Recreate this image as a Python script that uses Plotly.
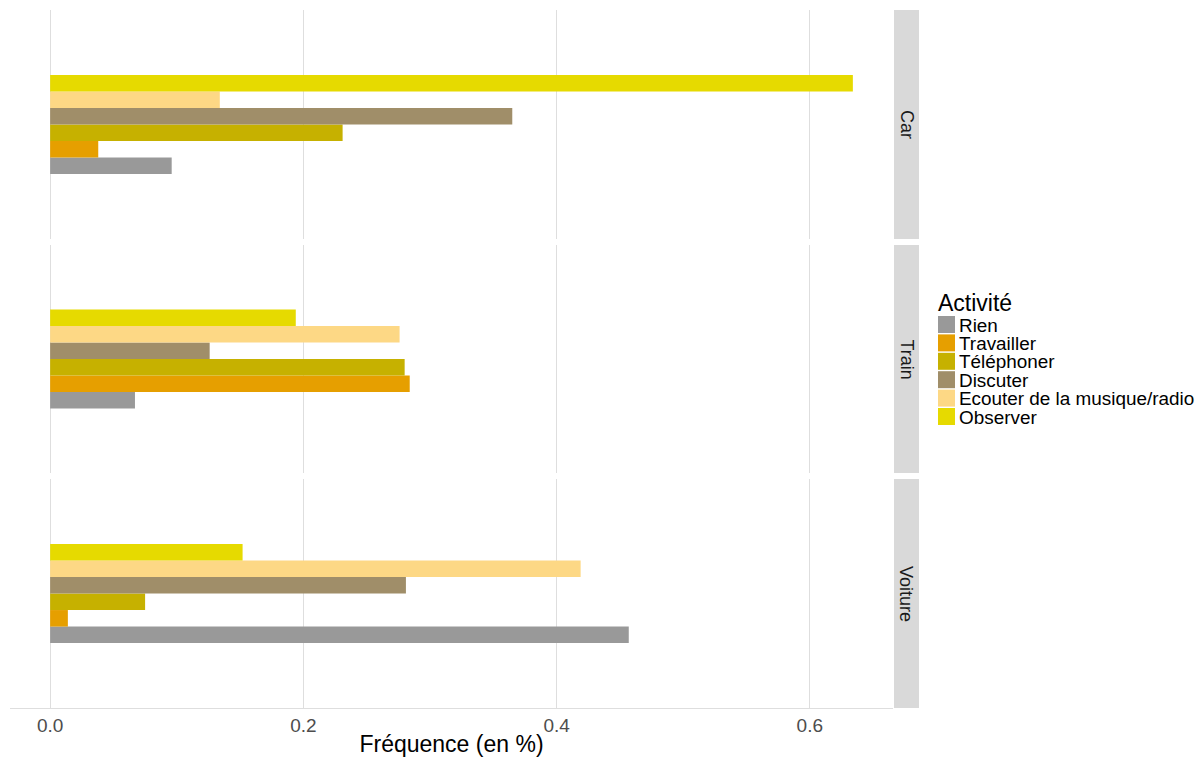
import plotly.graph_objects as go
from plotly.subplots import make_subplots

facets = ["Car", "Train", "Voiture"]
activities = ["Rien", "Travailler", "Téléphoner", "Discuter", "Ecouter de la musique/radio", "Observer"]
colors = ["#999999", "#E69F00", "#C6B100", "#A08E69", "#FDD885", "#E6DA00"]

# values per activity, in facet order (Car, Train, Voiture)
rien = [0.096, 0.067, 0.457]
travailler = [0.038, 0.284, 0.014]
telephoner = [0.231, 0.280, 0.075]
discuter = [0.365, 0.126, 0.281]
ecouter = [0.134, 0.276, 0.419]
observer = [0.634, 0.194, 0.152]
values = [rien, travailler, telephoner, discuter, ecouter, observer]

tick_vals = [0.0, 0.2, 0.4, 0.6]
tick_text = ["0.0", "0.2", "0.4", "0.6"]

font_family = "Liberation Sans, Arial, sans-serif"

# page geometry (the figure div sits 8px inside the page)
OFF = 8
W, H = 1204 - OFF, 757 - OFF
L, T = 10 - OFF, 10 - OFF
B = 757 - 708
R = W - (919 - OFF)
PW = W - L - R       # 909
PH = H - T - B       # 698


def px(xp):
    return (xp - OFF - L) / PW


def py(yp):
    return (708 - yp) / PH


fig = make_subplots(rows=3, cols=1, shared_xaxes=True, vertical_spacing=0.01)

for ai, (act, col, vals) in enumerate(zip(activities, colors, values)):
    for fi, fac in enumerate(facets):
        fig.add_trace(
            go.Bar(
                x=[vals[fi]], y=[fac], orientation="h", name=act,
                marker=dict(color=col, line=dict(width=0)),
                legendgroup=act, showlegend=False, offsetgroup=act,
                hovertemplate=act + ": %{x}<extra>" + fac + "</extra>",
            ),
            row=fi + 1, col=1,
        )

xdom = [0, px(893)]
doms = [[py(239), 1.0], [py(473), py(245)], [0.0, py(479)]]

for i in range(3):
    xa = "xaxis" if i == 0 else f"xaxis{i+1}"
    ya = "yaxis" if i == 0 else f"yaxis{i+1}"
    fig.layout[xa].update(
        domain=xdom, range=[-0.0317, 0.6657], showgrid=True, gridcolor="#DEDEDE",
        gridwidth=1, zeroline=False, tickvals=tick_vals, ticktext=tick_text,
        showticklabels=(i == 2), ticks="", showline=(i == 2), linecolor="#DEDEDE",
        linewidth=1, tickfont=dict(size=19, color="#4D4D4D", family=font_family),
        automargin=False,
    )
    fig.layout[ya].update(
        domain=doms[i], type="category", range=[-0.6, 0.6], showticklabels=False,
        showgrid=False, zeroline=False, ticks="", showline=False, automargin=False,
    )
    y0, y1 = doms[i]
    fig.add_shape(type="rect", xref="paper", yref="paper",
                  x0=px(894), x1=px(919), y0=y0, y1=y1,
                  fillcolor="#D9D9D9", line=dict(width=0), layer="below")
    fig.add_annotation(text=facets[i], xref="paper", yref="paper",
                       x=px(906.5), y=(y0 + y1) / 2, xanchor="center", yanchor="middle",
                       showarrow=False, textangle=90,
                       font=dict(size=18, color="#1A1A1A", family=font_family))

fig.layout.xaxis3.title = dict(text="Fréquence (en %)",
                               font=dict(size=23, color="#000000", family=font_family),
                               standoff=1)

# manual legend (ggplot style)
fig.add_annotation(text="Activité", xref="paper", yref="paper", x=px(936), y=py(302.5),
                   xanchor="left", yanchor="middle", showarrow=False,
                   font=dict(size=23, color="#000000", family=font_family))
step = 18.4
for i, (act, col) in enumerate(zip(activities, colors)):
    c = 324.5 + step * i
    fig.add_shape(type="rect", xref="paper", yref="paper",
                  x0=px(938), x1=px(955), y0=py(c + 8.5), y1=py(c - 8.5),
                  fillcolor=col, line=dict(width=0))
    fig.add_annotation(text=act, xref="paper", yref="paper", x=px(957), y=py(c + 0.5),
                       xanchor="left", yanchor="middle", showarrow=False,
                       font=dict(size=18.9, color="#000000", family=font_family))

fig.update_layout(
    width=W, height=H,
    margin=dict(l=L, r=R, t=T, b=B, pad=0, autoexpand=False),
    barmode="group", bargap=0.48, bargroupgap=0,
    plot_bgcolor="white", paper_bgcolor="white",
    font=dict(family=font_family),
    showlegend=False,
)

fig.write_html("out.html")
